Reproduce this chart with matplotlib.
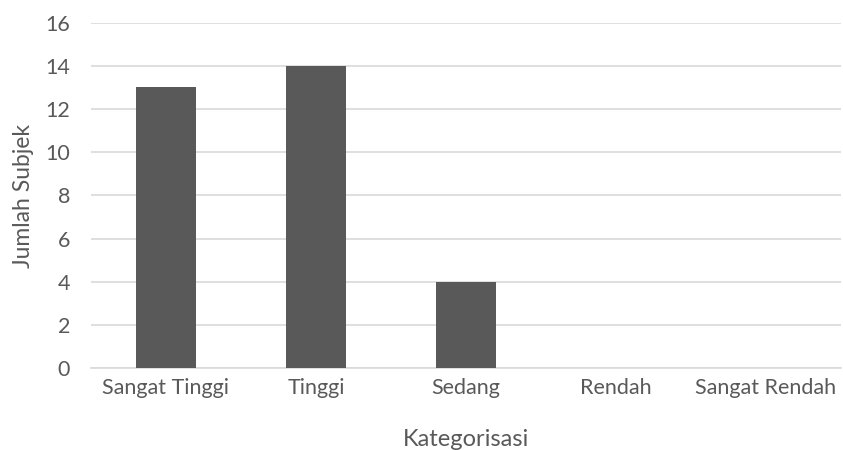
import matplotlib
matplotlib.use("Agg")
import matplotlib.pyplot as plt

categories = ["Sangat Tinggi", "Tinggi", "Sedang", "Rendah", "Sangat Rendah"]
counts = [13, 14, 4, 0, 0]
yticks = [0, 2, 4, 6, 8, 10, 12, 14, 16]

plt.rcParams['font.family'] = ['Lato', 'DejaVu Sans']
text_col = '#595959'
grid_col = '#d9d9d9'

fig = plt.figure(figsize=(8.43, 4.5), dpi=100)
W, H = 843, 450
ax = fig.add_axes([91 / W, 1 - 368.3 / H, (841 - 91) / W, (368.3 - 22.7) / H])

x = range(len(categories))
ax.bar(x, counts, width=0.4, color='#595959', zorder=3)

ax.set_xlim(-0.5, len(categories) - 0.5)
ax.set_ylim(0, 16)
ax.set_yticks(yticks)
ax.set_xticks(list(x))
ax.set_xticklabels(categories)
ax.yaxis.grid(True, color=grid_col, linewidth=1.2, zorder=0)

for s in ['top', 'right', 'left']:
    ax.spines[s].set_visible(False)
ax.spines['bottom'].set_color(grid_col)
ax.spines['bottom'].set_linewidth(1.2)

ax.tick_params(axis='both', length=0, labelsize=15.5, colors=text_col)
ax.tick_params(axis='x', pad=7)
ax.tick_params(axis='y', pad=15)

ax.set_xlabel("Kategorisasi", fontsize=17, color=text_col, labelpad=22)
ax.set_ylabel("Jumlah Subjek", fontsize=16.5, color=text_col, labelpad=8)

fig.savefig("out.png", dpi=100)
